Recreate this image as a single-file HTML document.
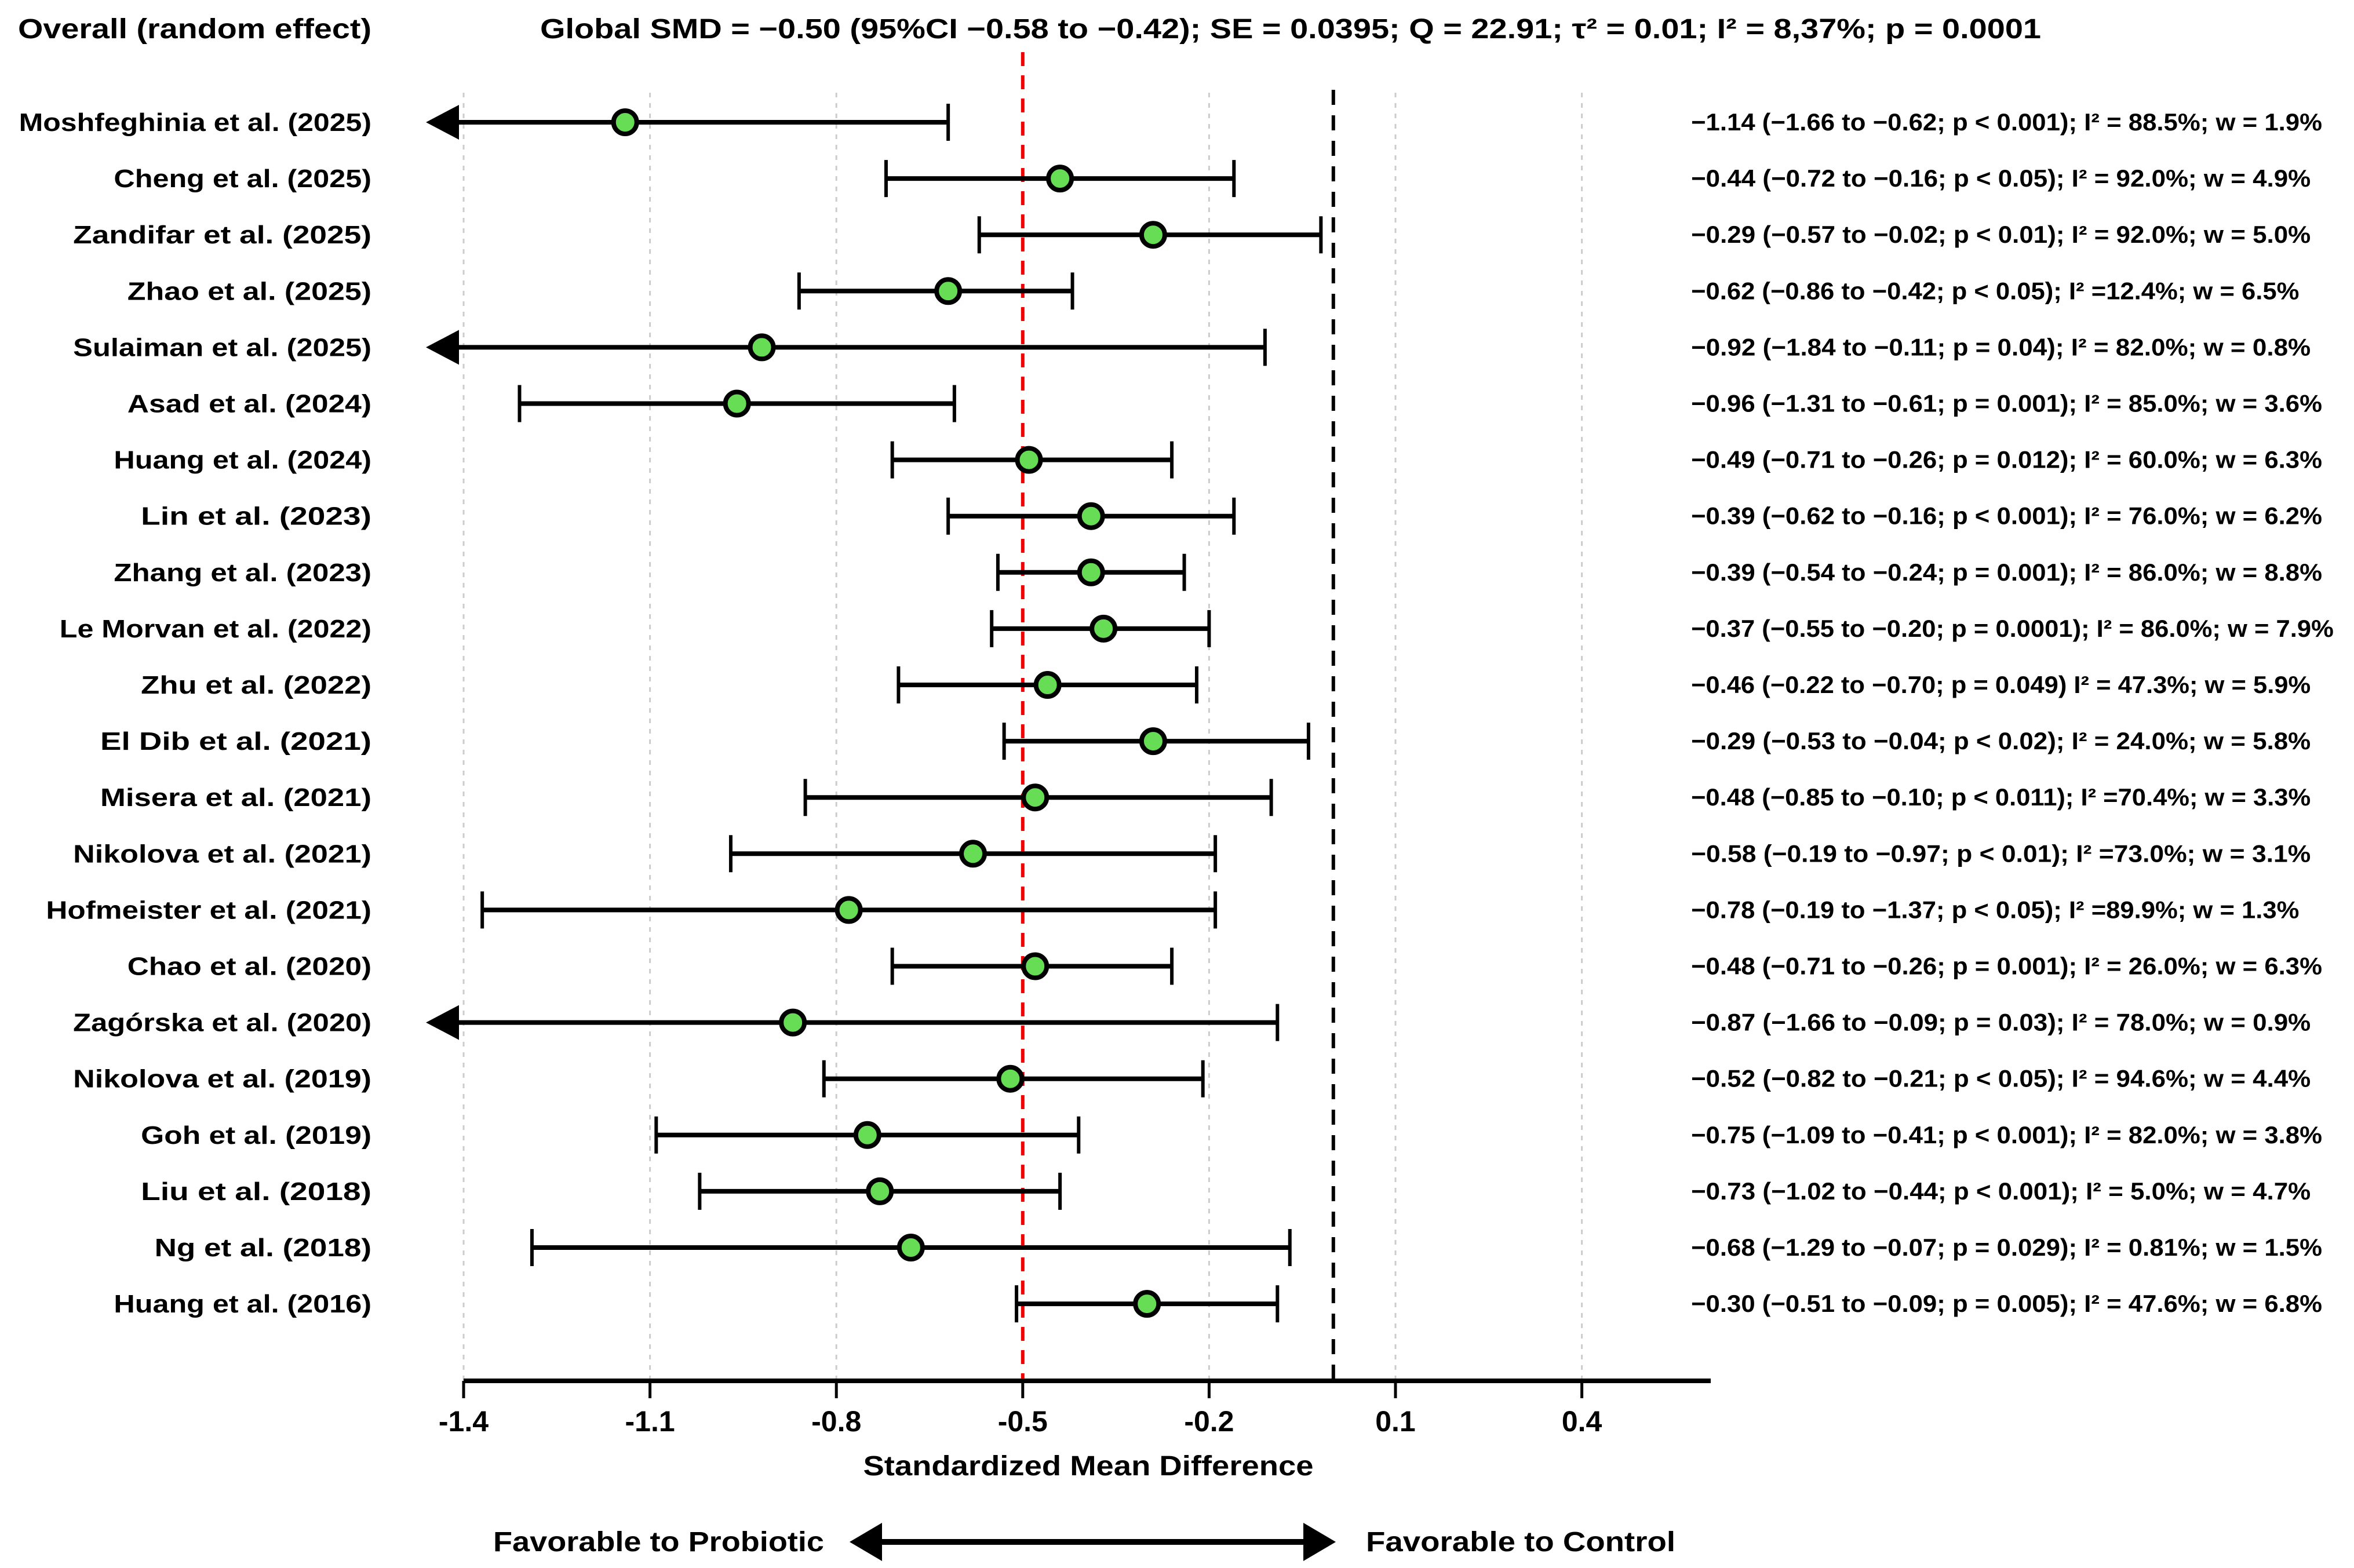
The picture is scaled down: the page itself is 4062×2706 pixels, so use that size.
<!DOCTYPE html>
<html><head><meta charset="utf-8">
<style>
html,body{margin:0;padding:0;background:#fff;}
svg{display:block;font-family:"Liberation Sans",Arial,sans-serif;font-weight:bold;}
</style></head>
<body>
<svg id="chart" width="4062" height="2706" viewBox="0 0 4062 2706" xmlns="http://www.w3.org/2000/svg">
<text x="31" y="66" font-size="48" textLength="610" lengthAdjust="spacingAndGlyphs">Overall (random effect)</text>
<text x="932" y="66" font-size="48" textLength="2590" lengthAdjust="spacingAndGlyphs">Global SMD = −0.50 (95%CI −0.58 to −0.42); SE = 0.0395; Q = 22.91; τ² = 0.01;    I² = 8,37%; p = 0.0001</text>
<g id="grid"></g>
<g id="refs"></g>
<g id="rows"></g>
<g id="axis"></g>
<text x="1878" y="2546" font-size="48" text-anchor="middle" textLength="777" lengthAdjust="spacingAndGlyphs">Standardized Mean Difference</text>
<text x="851" y="2677" font-size="48" textLength="571" lengthAdjust="spacingAndGlyphs">Favorable to Probiotic</text>
<text x="2357" y="2677" font-size="48" textLength="534" lengthAdjust="spacingAndGlyphs">Favorable to Control</text>
<g>
<line x1="1520" y1="2661" x2="2250" y2="2661" stroke="#000" stroke-width="10"/>
<polygon points="1466,2661 1522,2628 1522,2694" fill="#000"/>
<polygon points="2305,2661 2249,2628 2249,2694" fill="#000"/>
</g>
</svg>
<script>
const studies=["Moshfeghinia et al. (2025)","Cheng et al. (2025)","Zandifar et al. (2025)","Zhao et al. (2025)","Sulaiman et al. (2025)","Asad et al. (2024)","Huang et al. (2024)","Lin et al. (2023)","Zhang et al. (2023)","Le Morvan et al. (2022)","Zhu et al. (2022)","El Dib et al. (2021)","Misera et al. (2021)","Nikolova et al. (2021)","Hofmeister et al. (2021)","Chao et al. (2020)","Zagórska et al. (2020)","Nikolova et al. (2019)","Goh et al. (2019)","Liu et al. (2018)","Ng et al. (2018)","Huang et al. (2016)"];
const smd=[-1.14,-0.44,-0.29,-0.62,-0.92,-0.96,-0.49,-0.39,-0.39,-0.37,-0.46,-0.29,-0.48,-0.58,-0.78,-0.48,-0.87,-0.52,-0.75,-0.73,-0.68,-0.30];
const lower=[-1.66,-0.72,-0.57,-0.86,-1.84,-1.31,-0.71,-0.62,-0.54,-0.55,-0.70,-0.53,-0.85,-0.97,-1.37,-0.71,-1.66,-0.82,-1.09,-1.02,-1.29,-0.51];
const upper=[-0.62,-0.16,-0.02,-0.42,-0.11,-0.61,-0.26,-0.16,-0.24,-0.20,-0.22,-0.04,-0.10,-0.19,-0.19,-0.26,-0.09,-0.21,-0.41,-0.44,-0.07,-0.09];
const stats=["−1.14 (−1.66 to −0.62; p < 0.001); I² = 88.5%; w = 1.9%","−0.44 (−0.72 to −0.16; p < 0.05); I² = 92.0%; w = 4.9%","−0.29 (−0.57 to −0.02; p < 0.01); I² = 92.0%; w = 5.0%","−0.62 (−0.86 to −0.42; p < 0.05); I² =12.4%; w = 6.5%","−0.92 (−1.84 to −0.11; p = 0.04); I² = 82.0%; w = 0.8%","−0.96 (−1.31 to −0.61; p = 0.001); I² = 85.0%; w = 3.6%","−0.49 (−0.71 to −0.26; p = 0.012); I² = 60.0%; w = 6.3%","−0.39 (−0.62 to −0.16; p < 0.001); I² = 76.0%; w = 6.2%","−0.39 (−0.54 to −0.24; p = 0.001); I² = 86.0%; w = 8.8%","−0.37 (−0.55 to −0.20; p = 0.0001); I² = 86.0%; w = 7.9%","−0.46 (−0.22 to −0.70; p = 0.049) I² = 47.3%; w = 5.9%","−0.29 (−0.53 to −0.04; p < 0.02); I² = 24.0%; w = 5.8%","−0.48 (−0.85 to −0.10; p < 0.011); I² =70.4%; w = 3.3%","−0.58 (−0.19 to −0.97;  p < 0.01); I² =73.0%; w = 3.1%","−0.78 (−0.19 to −1.37; p < 0.05); I² =89.9%; w = 1.3%","−0.48 (−0.71 to −0.26; p = 0.001); I² = 26.0%; w = 6.3%","−0.87 (−1.66 to −0.09; p = 0.03); I² = 78.0%; w = 0.9%","−0.52 (−0.82 to −0.21; p < 0.05); I² = 94.6%; w = 4.4%","−0.75 (−1.09 to −0.41; p < 0.001); I² = 82.0%; w = 3.8%","−0.73 (−1.02 to −0.44; p < 0.001); I² = 5.0%; w = 4.7%","−0.68 (−1.29 to −0.07; p = 0.029); I² = 0.81%; w = 1.5%","−0.30 (−0.51 to −0.09; p = 0.005); I² = 47.6%; w = 6.8%"];
const ticks=[-1.4,-1.1,-0.8,-0.5,-0.2,0.1,0.4];
const tickLabels=["-1.4","-1.1","-0.8","-0.5","-0.2","0.1","0.4"];
const pooled=-0.5, nullValue=0;

const NS="http://www.w3.org/2000/svg";
const X0=800, PXU=1072, XMIN=-1.4;
const xs=v=>X0+(v-XMIN)*PXU;
const ys=i=>211+i*97.1;
const AXY=2383;
function mk(tag,attrs,parent){const e=document.createElementNS(NS,tag);for(const k in attrs)e.setAttribute(k,attrs[k]);parent.appendChild(e);return e;}
const grid=document.getElementById('grid'),refs=document.getElementById('refs'),rows=document.getElementById('rows'),axis=document.getElementById('axis');

ticks.forEach((t,i)=>{
  if(t!==pooled){
    const g=mk('line',{x1:xs(t),x2:xs(t),y1:160,y2:AXY,stroke:'#ccc','stroke-width':3,'stroke-dasharray':'8 10'},grid);
    
    
  }
  const tk=mk('line',{x1:xs(t),x2:xs(t),y1:AXY,y2:AXY+30,stroke:'#000','stroke-width':5},axis);
  
  
  const tl=mk('text',{x:xs(t),y:2470,'font-size':50,'text-anchor':'middle'},axis);
  tl.textContent=tickLabels[i];
  
  
});
const al=mk('line',{x1:X0,x2:2952,y1:AXY,y2:AXY,stroke:'#000','stroke-width':8},axis);



const rl=mk('line',{x1:xs(pooled),x2:xs(pooled),y1:90,y2:AXY,stroke:'#ee0000','stroke-width':6,'stroke-dasharray':'24 16'},refs);


const nl=mk('line',{x1:xs(nullValue),x2:xs(nullValue),y1:155,y2:AXY,stroke:'#000','stroke-width':6,'stroke-dasharray':'26 18'},refs);



studies.forEach((s,i)=>{
  const y=ys(i);
  const g=mk('g',{},rows);
  
  
  const lab=mk('text',{x:641,y:y+15,'font-size':44,'text-anchor':'end',textLength:s.length*23.4,lengthAdjust:'spacingAndGlyphs'},g);
  lab.textContent=s;
  
  
  const st=mk('text',{x:2918,y:y+14,'font-size':42,textLength:stats[i].length*19.8,lengthAdjust:'spacingAndGlyphs'},g);
  st.textContent=stats[i];
  
  
  const lo=Math.min(lower[i],upper[i]),hi=Math.max(lower[i],upper[i]);
  const clipped=lo<XMIN;
  const x1=clipped?xs(XMIN)-10:xs(lo), x2=xs(hi);
  const ci=mk('line',{x1:x1,x2:x2,y1:y,y2:y,stroke:'#000','stroke-width':8},g);
  
  
  const c2=mk('line',{x1:x2,x2:x2,y1:y-32,y2:y+32,stroke:'#000','stroke-width':6},g);
  
  
  if(clipped){
    const ar=mk('polygon',{points:`${xs(XMIN)-65},${y} ${xs(XMIN)-8},${y-30} ${xs(XMIN)-8},${y+30}`,fill:'#000'},g);
    
    
  }else{
    const c1=mk('line',{x1:x1,x2:x1,y1:y-32,y2:y+32,stroke:'#000','stroke-width':6},g);
    
    
  }
  const pt=mk('circle',{cx:xs(smd[i]),cy:y,r:20,fill:'#66dd55',stroke:'#000','stroke-width':8},g);
  
  
});
</script>
</body></html>
